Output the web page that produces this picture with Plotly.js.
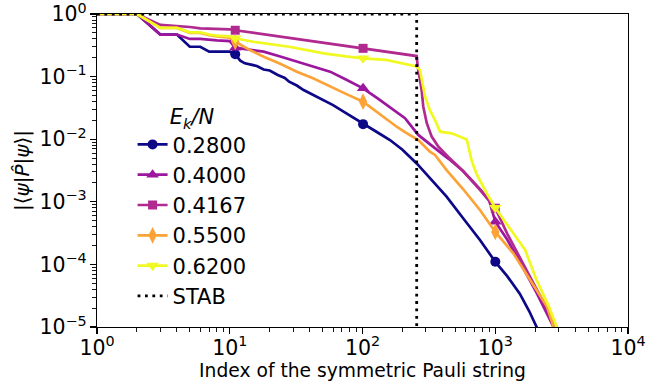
<!DOCTYPE html>
<html>
<head>
<meta charset="utf-8">
<script src="https://cdn.plot.ly/plotly-3.0.1.min.js"></script>
<style>html,body{margin:0;padding:0;background:#fff;}#chart{width:646px;height:390px;}</style>
</head>
<body>
<div id="chart"></div>
<script>
// ---- data ----
const seriesNames = ['0.2800', '0.4000', '0.4167', '0.5500', '0.6200'];
const markerX = [11, 101, 1001];

const x028 = [1, 2, 3, 4, 5, 6, 7, 8, 10, 11, 12, 13, 15, 16, 18, 20, 23, 26, 28, 32, 36, 42, 51, 60, 72, 85, 101, 130, 161, 200, 256, 322, 430, 571, 767, 1001, 1230, 1530, 1800, 2050, 2200];
const y028 = [1, 1, 0.47, 0.47, 0.30, 0.30, 0.25, 0.25, 0.25, 0.227, 0.18, 0.163, 0.155, 0.148, 0.13, 0.125, 0.106, 0.095, 0.083, 0.072, 0.061, 0.052, 0.042, 0.035, 0.0275, 0.022, 0.0174, 0.0128, 0.0097, 0.0068, 0.0041, 0.0024, 0.00121, 0.00055, 0.000245, 0.00011, 6.5e-5, 3.4e-5, 1.8e-5, 1e-5, 7e-6];

const x040 = [1, 2, 3, 4, 5, 6, 8, 10, 11, 14, 18, 24, 32, 42, 57, 75, 101, 130, 169, 209, 263, 313, 373, 443, 572, 767, 900, 1001, 1230, 1530, 2050, 2750, 3000];
const y040 = [1, 1, 0.47, 0.47, 0.40, 0.40, 0.38, 0.37, 0.29, 0.27, 0.25, 0.21, 0.173, 0.145, 0.12, 0.09, 0.065, 0.045, 0.03, 0.0216, 0.0117, 0.0086, 0.0065, 0.0049, 0.0031, 0.0016, 0.00105, 0.00048, 0.00025, 0.00011, 3.5e-5, 1e-5, 7e-6];

const x04167 = [1, 2, 3, 4, 5, 6, 8, 10, 11, 15, 20, 32, 50, 75, 101, 150, 200, 256, 260, 271, 279, 287, 305, 332, 373, 443, 572, 767, 962, 1001, 1230, 1530, 2050, 2900, 3100];
const y04167 = [1, 1, 0.67, 0.65, 0.62, 0.59, 0.58, 0.57, 0.55, 0.5, 0.46, 0.40, 0.35, 0.31, 0.283, 0.25, 0.23, 0.213, 0.15, 0.09, 0.061, 0.033, 0.018, 0.011, 0.0076, 0.0052, 0.0031, 0.00155, 0.00085, 0.00079, 0.00031, 0.00013, 4.2e-5, 1e-5, 7e-6];

const x055 = [1, 2, 3, 4, 5, 6, 7, 8, 10, 11, 14, 18, 24, 32, 42, 57, 75, 101, 123, 181, 209, 263, 322, 352, 430, 572, 767, 1001, 1368, 1824, 2459, 2750, 2900];
const y055 = [1, 1, 0.6, 0.6, 0.5, 0.5, 0.46, 0.44, 0.42, 0.36, 0.27, 0.208, 0.16, 0.12, 0.095, 0.069, 0.053, 0.0397, 0.029, 0.0158, 0.013, 0.0097, 0.0063, 0.0056, 0.0032, 0.0016, 0.00074, 0.00033, 0.00015, 5.6e-5, 2.1e-5, 1e-5, 7e-6];

const x062 = [1, 2, 3, 4, 5, 6, 7, 8, 10, 11, 15, 20, 28, 40, 51, 75, 101, 150, 209, 256, 271, 279, 296, 322, 352, 384, 470, 610, 665, 720, 862, 1001, 1368, 1680, 2050, 2540, 2900, 3100];
const y062 = [1, 1, 0.6, 0.6, 0.51, 0.51, 0.47, 0.45, 0.44, 0.41, 0.36, 0.33, 0.30, 0.26, 0.235, 0.21, 0.196, 0.185, 0.16, 0.145, 0.127, 0.088, 0.048, 0.029, 0.0202, 0.0132, 0.0124, 0.0099, 0.0045, 0.00285, 0.00137, 0.0008, 0.00031, 0.00017, 5.6e-5, 2.1e-5, 1e-5, 7e-6];

const stabX = [1, 256, 256];
const stabY = [1, 1, 1e-12];

const xTickVals = [1, 10, 100, 1000, 10000];
const xTickText = ['10<sup>0</sup>', '10<sup>1</sup>', '10<sup>2</sup>', '10<sup>3</sup>', '10<sup>4</sup>'];
const yTickVals = [1, 0.1, 0.01, 0.001, 0.0001, 0.00001];
const yTickText = ['10<sup>0</sup>', '10<sup>−1</sup>', '10<sup>−2</sup>', '10<sup>−3</sup>', '10<sup>−4</sup>', '10<sup>−5</sup>'];

// ---- styles ----
const colors = ['#0d0887', '#9c179e', '#b12a90', '#fca338', '#f0f921'];
const symbols = ['circle', 'triangle-up', 'square', 'diamond-tall', 'triangle-down'];
const msizes = [10, 11, 9, 12, 11];
const xs = [x028, x040, x04167, x055, x062];
const ys = [y028, y040, y04167, y055, y062];

const FONT = 'DejaVu Sans, Verdana, sans-serif';
const traces = [];
for (let i = 0; i < seriesNames.length; i++) {
  const sel = markerX.map(m => xs[i].indexOf(m)).filter(k => k >= 0);
  traces.push({
    type: 'scatter', mode: 'lines+markers', name: seriesNames[i],
    x: xs[i], y: ys[i],
    line: {color: colors[i], width: 2.7},
    marker: {color: colors[i], symbol: symbols[i], size: msizes[i], line: {width: 0}},
    selectedpoints: sel,
    selected: {marker: {opacity: 1}},
    unselected: {marker: {opacity: 0}},
    hoverinfo: 'skip'
  });
}
traces.push({
  type: 'scatter', mode: 'lines', name: 'STAB',
  x: stabX, y: stabY,
  line: {color: '#000', width: 2.8, dash: '2.8px,4.6px'},
  hoverinfo: 'skip'
});

const axisCommon = {
  type: 'log', showgrid: false, zeroline: false,
  showline: true, linecolor: '#000', linewidth: 1.2, mirror: true,
  ticks: 'outside', ticklen: 6, tickwidth: 1.2, tickcolor: '#000',
  tickmode: 'array', ticklabeloverflow: 'allow',
  tickfont: {family: FONT, size: 20.5, color: '#000'},
  minor: {ticks: 'outside', ticklen: 3.5, tickwidth: 0.9, tickcolor: '#000', dtick: 'D1', showgrid: false}
};

const layout = {
  width: 646, height: 390,
  margin: {l: 97, r: 18, t: 14, b: 63},
  paper_bgcolor: '#fff', plot_bgcolor: '#fff',
  showlegend: true,
  font: {family: FONT, color: '#000'},
  xaxis: Object.assign({}, axisCommon, {
    range: [0, 4], tickvals: xTickVals, ticktext: xTickText,
    ticklabelstandoff: -4,
    title: {text: 'Index of the symmetric Pauli string', font: {family: FONT, size: 18.7, color: '#000'}, standoff: 2}
  }),
  yaxis: Object.assign({}, axisCommon, {
    range: [-5, 0], tickvals: yTickVals, ticktext: yTickText,
    ticklabelstandoff: -1,
    title: {text: '|⟨<i>ψ</i>|<i>P̂</i>|<i>ψ</i>⟩|', font: {family: FONT, size: 20, color: '#000'}, standoff: 4}
  }),
  legend: {
    x: 0.067, y: 0.735, xanchor: 'left', yanchor: 'top',
    bgcolor: 'rgba(0,0,0,0)', borderwidth: 0,
    font: {family: FONT, size: 21, color: '#000'},
    title: {text: '<i>E<sub>k</sub>/N</i>', side: 'top center', font: {family: FONT, size: 21, color: '#000'}},
    tracegroupgap: 0
  }
};

Plotly.newPlot('chart', traces, layout, {staticPlot: true, displayModeBar: false});
</script>
</body>
</html>
